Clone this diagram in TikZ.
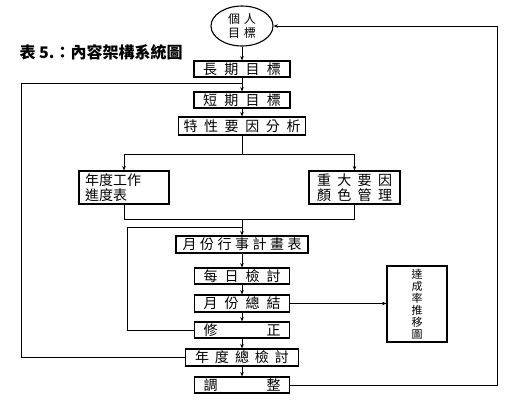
\documentclass[tikz,border=0pt]{standalone}
\usepackage{fontspec}
\newfontfamily\cjk{Noto Sans CJK TC}
\usetikzlibrary{arrows.meta,shapes.geometric}

\tikzset{
  stepbox/.style={draw, line width=1.1pt, inner sep=0pt, minimum height=16pt},
  flow/.style={line width=0.8pt, -{Stealth[length=4.5pt,width=3.5pt]}},
  link/.style={line width=0.8pt},
}

\begin{document}
\begin{tikzpicture}[x=1pt,y=-1pt,font=\cjk\fontsize{14}{15}\selectfont]
  \useasboundingbox[fill=white] (0,0) rectangle (522,408);
  \node[anchor=west,font=\cjk\bfseries\fontsize{16}{18}\selectfont] (title) at (16,52) {表 5.：內容架構系統圖};
  \node[ellipse, draw, line width=1.1pt, minimum width=62pt, minimum height=40pt, inner sep=0pt, align=center,
        font=\cjk\fontsize{12}{14}\selectfont] (goal) at (242,26) {\makebox[28pt][s]{個 人}\\\makebox[28pt][s]{目 標}};
  \node[stepbox, minimum width=96pt] (longterm) at (242,69) {\makebox[78pt][s]{長 期 目 標}};
  \node[stepbox, minimum width=96pt] (shortterm) at (242,100) {\makebox[78pt][s]{短 期 目 標}};
  \node[stepbox, minimum width=127pt, minimum height=18pt] (analysis) at (242,126) {\makebox[117pt][s]{特 性 要 因 分 析}};
  \node[stepbox, minimum width=90pt, minimum height=33pt, text width=78pt, align=left] (yearplan) at (124,187.5) {年度工作\\進度表};
  \node[stepbox, minimum width=91pt, minimum height=33pt, align=center] (colormgmt) at (354.5,187.5)
    {\makebox[75pt][s]{重 大 要 因}\\\makebox[75pt][s]{顏 色 管 理}};
  \node[stepbox, minimum width=132pt, minimum height=17pt] (monthplan) at (242,244.5) {\makebox[119pt][s]{月 份 行 事 計 畫 表}};
  \node[stepbox, minimum width=95pt] (daily) at (242,276) {\makebox[77pt][s]{每 日 檢 討}};
  \node[stepbox, minimum width=95pt, minimum height=17pt] (monthsum) at (242,303.5) {\makebox[77pt][s]{月 份 總 結}};
  \node[stepbox, minimum width=95pt] (revise) at (242,330) {\makebox[77pt]{修\hfill 正}};
  \node[stepbox, minimum width=113pt, minimum height=17pt] (yearreview) at (242,357.5) {\makebox[94pt][s]{年 度 總 檢 討}};
  \node[stepbox, minimum width=95pt] (adjust) at (242,385) {\makebox[77pt]{調\hfill 整}};
  \node[stepbox, minimum width=60pt, minimum height=76pt, align=center, font=\cjk\fontsize{11}{12}\selectfont] (rate) at (417,304)
    {達\\成\\率\\推\\移\\圖};

  \coordinate (split) at (242,154);
  \coordinate (merge) at (242,219);
  \coordinate (reentry) at (242,227);
  \coordinate (revisecorner) at (127,330);
  \coordinate (yearentry) at (242,83);
  \coordinate (yearcorner) at (21,357.5);
  \coordinate (backbottom) at (497,385);
  \coordinate (backtop) at (497,26);

  \draw[flow] (goal) -- (longterm);
  \draw[flow] (longterm) -- (shortterm);
  \draw[flow] (shortterm) -- (analysis);
  \draw[link] (analysis) -- (split);
  \draw[flow] (split) -| (yearplan);
  \draw[flow] (split) -| (colormgmt);
  \draw[link] (yearplan) |- (merge);
  \draw[link] (colormgmt) |- (merge);
  \draw[flow] (merge) -- (monthplan);
  \draw[flow] (monthplan) -- (daily);
  \draw[flow] (daily) -- (monthsum);
  \draw[flow] (monthsum) -- (revise);
  \draw[flow] (revise) -- (yearreview);
  \draw[flow] (yearreview) -- (adjust);
  \draw[flow] (monthsum.east) -- (monthsum.east -| rate.west);
  \draw[link] (revise) -- (revisecorner) |- (reentry);
  \draw[link] (yearreview) -- (yearcorner) |- (yearentry);
  \draw[flow] (adjust) -- (backbottom) -- (backtop) -- (goal);
\end{tikzpicture}
\end{document}
